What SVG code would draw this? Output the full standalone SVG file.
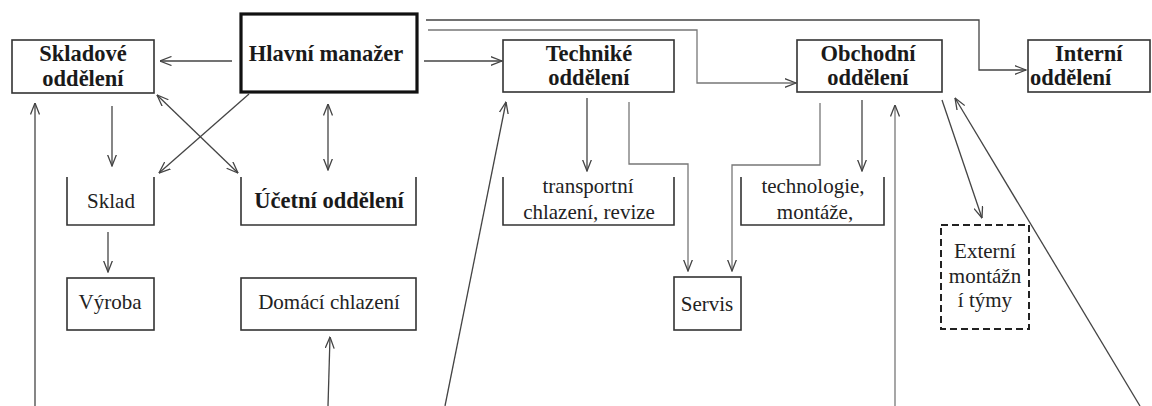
<svg xmlns="http://www.w3.org/2000/svg" width="1152" height="406" viewBox="0 0 1152 406">
<defs>
<style>
.box{fill:#fff;stroke:#333;stroke-width:1.6}
.open{fill:none;stroke:#333;stroke-width:1.6}
.main{fill:#fff;stroke:#111;stroke-width:3.2}
.dash{fill:#fff;stroke:#222;stroke-width:2;stroke-dasharray:7 4}
.b{font-family:"Liberation Serif","DejaVu Serif",serif;font-weight:bold;font-size:22.5px;fill:#1a1a1a;text-anchor:middle}
.r{font-family:"Liberation Serif","DejaVu Serif",serif;font-size:21px;fill:#222;text-anchor:middle}
.c{fill:none;stroke:#444;stroke-width:1.3}
.g{fill:none;stroke:#777;stroke-width:1.3}
.a{marker-end:url(#ah)}
.d{marker-start:url(#ah);marker-end:url(#ah)}
</style>
<marker id="ah" viewBox="0 0 12 10" refX="11.5" refY="5" markerWidth="12" markerHeight="10" markerUnits="userSpaceOnUse" orient="auto-start-reverse">
<path d="M0,0.5 L11.5,5 L0,9.5" fill="none" stroke="#444" stroke-width="1.3"/>
</marker>
</defs>
<rect width="1152" height="406" fill="#fff"/>
<g id="connectors">
<path class="c a" d="M232,61 H160"/>
<path class="c a" d="M424,61 H502"/>
<path class="g a" d="M428,30 H697 V83 H796"/>
<path class="c a" d="M426,20 H979 V70 H1026"/>
<path class="c a" d="M112,106 V166"/>
<path class="c d" d="M157,95 L238,173"/>
<path class="c a" d="M249,94 L159,173"/>
<path class="c d" d="M328,104 V170"/>
<path class="c a" d="M108,232 V272"/>
<path class="c a" d="M35,406 V103"/>
<path class="c a" d="M328,406 L330,337"/>
<path class="c a" d="M445,406 L506,102"/>
<path class="c a" d="M587,98 V171"/>
<path class="g a" d="M629,102 V164 H688 V271"/>
<path class="g a" d="M820,103 V165 H732 V271"/>
<path class="c a" d="M862,100 V171"/>
<path class="g a" d="M895,406 V105"/>
<path class="c a" d="M942,100 L982,218"/>
<path class="c a" d="M1140,406 L955,98"/>
</g>
<g id="skladove">
<rect class="box" x="12" y="40" width="142" height="53"/>
<text class="b" x="83" y="61">Skladové</text>
<text class="b" x="83" y="86">oddělení</text>
</g>
<g id="hlavni">
<rect class="main" x="241" y="14" width="176" height="78"/>
<text class="b" x="326" y="61">Hlavní manažer</text>
</g>
<g id="technike">
<rect class="box" x="503" y="40" width="171" height="52"/>
<text class="b" x="589" y="61">Techniké</text>
<text class="b" x="589" y="85">oddělení</text>
</g>
<g id="obchodni">
<rect class="box" x="797" y="40" width="145" height="52"/>
<text class="b" x="868" y="61">Obchodní</text>
<text class="b" x="868" y="85">oddělení</text>
</g>
<g id="interni">
<rect class="box" x="1028" y="40" width="122" height="52"/>
<text class="b" x="1055" y="61" style="text-anchor:start">Interní</text>
<text class="b" x="1030" y="85" style="text-anchor:start">oddělení</text>
</g>
<g id="sklad">
<path class="open" d="M67,177 V225 H154 V177"/>
<text class="r" x="111" y="208">Sklad</text>
</g>
<g id="ucetni">
<path class="open" d="M241,177 V225 H416 V177"/>
<text class="b" x="329" y="208">Účetní oddělení</text>
</g>
<g id="transportni">
<path class="open" d="M503,177 V225 H674 V177"/>
<text class="r" x="588" y="193">transportní</text>
<text class="r" x="589" y="219">chlazení, revize</text>
</g>
<g id="technologie">
<path class="open" d="M741,177 V225 H884 V177"/>
<text class="r" x="813" y="193">technologie,</text>
<text class="r" x="815" y="219">montáže,</text>
</g>
<g id="vyroba">
<rect class="box" x="67" y="278" width="87" height="52"/>
<text class="r" x="110" y="309">Výroba</text>
</g>
<g id="domaci">
<rect class="box" x="241" y="278" width="175" height="52"/>
<text class="r" x="329" y="309">Domácí chlazení</text>
</g>
<g id="servis">
<rect class="box" x="674" y="277" width="67" height="53"/>
<text class="r" x="707" y="311">Servis</text>
</g>
<g id="externi">
<rect class="dash" x="941" y="225" width="88" height="104"/>
<text class="r" x="985" y="258">Externí</text>
<text class="r" x="985" y="283">montážn</text>
<text class="r" x="985" y="307">í týmy</text>
</g>
</svg>
